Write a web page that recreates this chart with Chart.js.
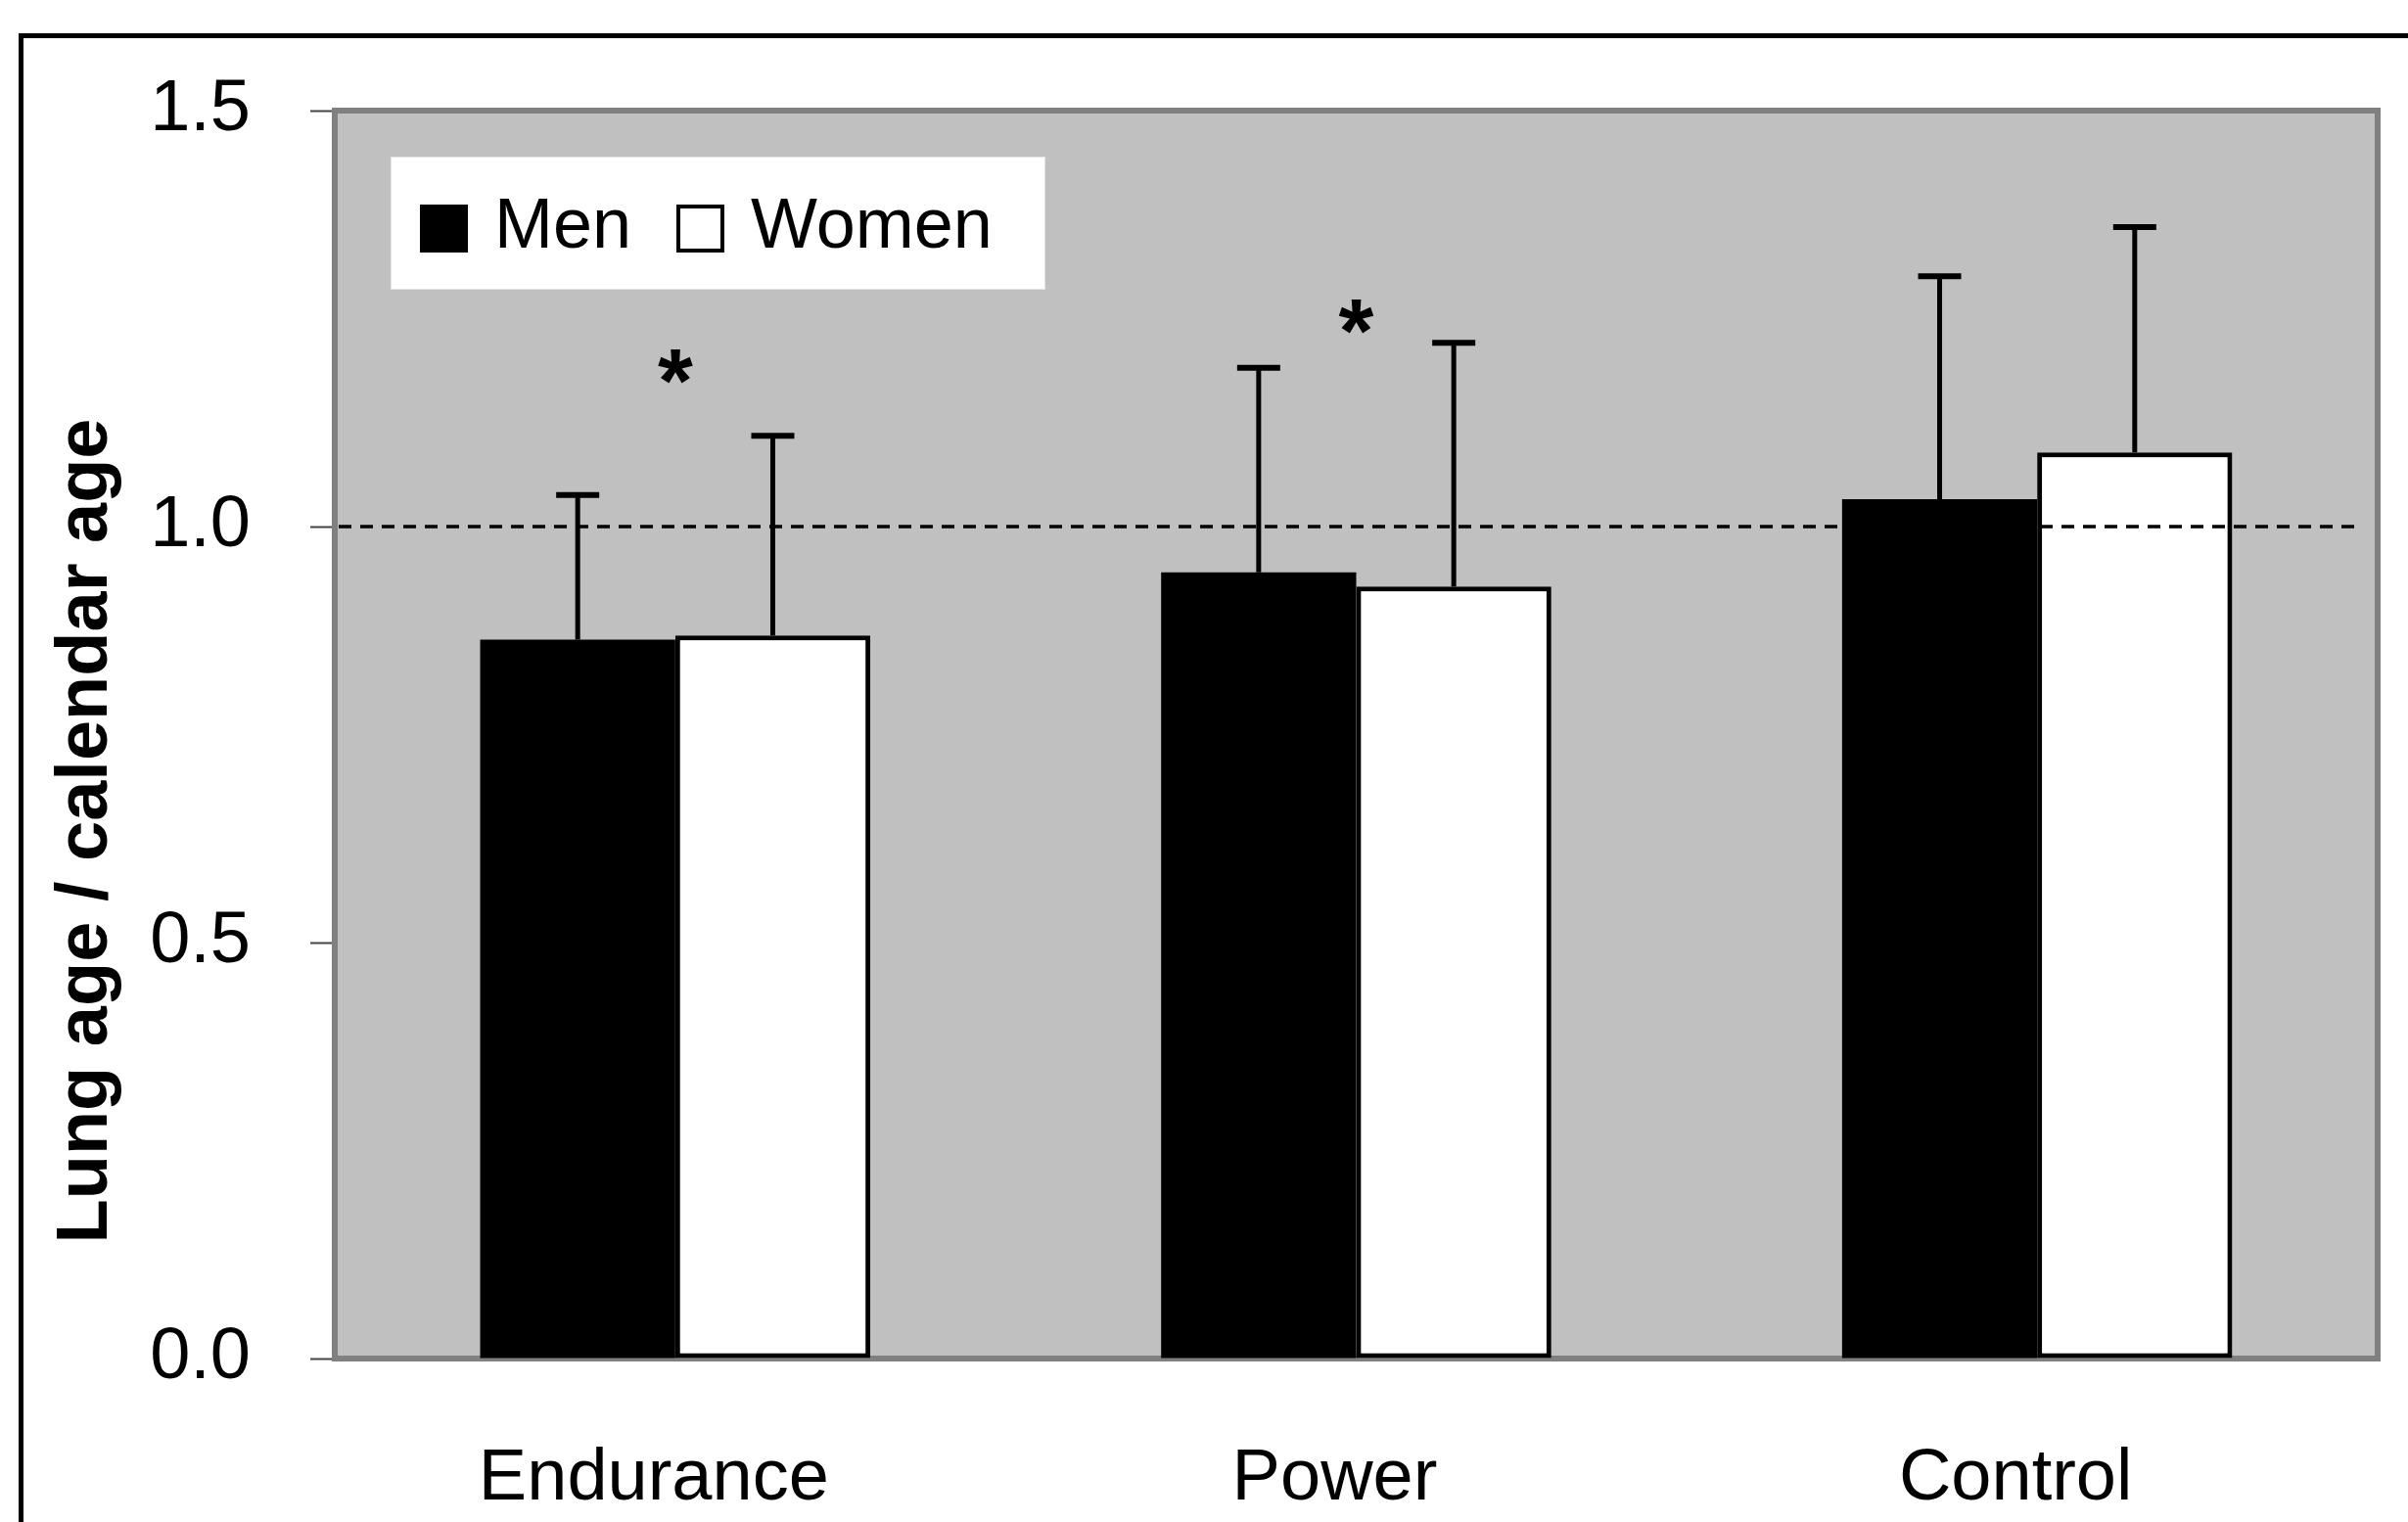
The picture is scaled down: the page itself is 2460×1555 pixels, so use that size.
<!DOCTYPE html>
<html>
<head>
<meta charset="utf-8">
<script src="https://cdn.jsdelivr.net/npm/chart.js@4.4.1/dist/chart.umd.min.js"></script>
<style>
    body { margin: 0; background: #fff; }
    #wrap { position: relative; width: 2460px; height: 1555px; overflow: hidden; }
    #frame { position: absolute; left: 19px; top: 34px; width: 2700px; height: 1800px; border: 5px solid #000; }
    #chart-box { position: absolute; left: 0; top: 0; width: 2460px; height: 1555px; }
    #legend {
        position: absolute; left: 399px; top: 160px; width: 669px; height: 136px;
        box-sizing: border-box; background: #fff; border: 1px solid #e4e4e4;
        display: flex; align-items: center; padding-left: 29px;
        font-family: 'Liberation Sans', Arial, sans-serif; font-size: 72px; color: #000;
    }
    .item { display: flex; align-items: center; margin-right: 46px; }
    .swatch { width: 49px; height: 49px; box-sizing: border-box; margin-right: 27px; margin-top: 10px; }
</style>
</head>
<body>
<div id="wrap">
    <div id="frame"></div>
    <div id="chart-box"><canvas id="chart"></canvas></div>
    <div id="legend"></div>
</div>
<script>
const groups = ['Endurance', 'Power', 'Control']
const menMean = [0.864, 0.945, 1.033]
const menSD = [0.174, 0.246, 0.268]
const womenMean = [0.869, 0.928, 1.089]
const womenSD = [0.240, 0.293, 0.271]
const starLevel = [1.19, 1.25, null]   // "*" marks above the groups
const refLine = 1.0
const yTicks = [0, 0.5, 1.0, 1.5]

const FONT = "'Liberation Sans', Arial, sans-serif"

// grey plot area with its border, under the bars
const plotArea = {
    id: 'plotArea',
    beforeDatasetsDraw(chart) {
        const {ctx, chartArea: a} = chart
        ctx.save()
        ctx.fillStyle = '#c0c0c0'
        ctx.fillRect(a.left, a.top, a.width, a.height)
        ctx.strokeStyle = '#808080'
        ctx.lineWidth = 6
        ctx.strokeRect(a.left, a.top, a.width, a.height)
        ctx.restore()
    }
}

// dashed line at 1.0, error bars and the stars
const extras = {
    id: 'extras',
    afterDatasetsDraw(chart) {
        const ctx = chart.ctx
        const x = chart.scales.x
        const y = chart.scales.y
        const a = chart.chartArea
        ctx.save()

        ctx.strokeStyle = '#000'
        ctx.lineWidth = 3.5
        ctx.setLineDash([13, 9])
        ctx.beginPath()
        ctx.moveTo(a.left + 4, y.getPixelForValue(refLine))
        ctx.lineTo(a.right - 18, y.getPixelForValue(refLine))
        ctx.stroke()
        ctx.setLineDash([])

        chart.data.datasets.forEach((ds, i) => {
            chart.getDatasetMeta(i).data.forEach((bar, j) => {
                const top = y.getPixelForValue(ds.data[j] + ds.errors[j])
                ctx.lineWidth = 5
                ctx.beginPath()
                ctx.moveTo(bar.x, bar.y)
                ctx.lineTo(bar.x, top)
                ctx.stroke()
                ctx.lineWidth = 6
                ctx.beginPath()
                ctx.moveTo(bar.x - 22, top)
                ctx.lineTo(bar.x + 22, top)
                ctx.stroke()
            })
        })

        ctx.fillStyle = '#000'
        ctx.font = 'bold 92px ' + FONT
        ctx.textAlign = 'center'
        ctx.textBaseline = 'middle'
        starLevel.forEach((v, i) => {
            if (v === null) return
            ctx.fillText('*', x.getPixelForValue(i), y.getPixelForValue(v) + 19)
        })
        ctx.restore()
    }
}

// y axis title, sits lower than the middle of the axis
const yTitle = {
    id: 'yTitle',
    afterDraw(chart) {
        const ctx = chart.ctx
        ctx.save()
        ctx.translate(109, 849)
        ctx.rotate(-Math.PI / 2)
        ctx.font = 'bold 74px ' + FONT
        ctx.fillStyle = '#000'
        ctx.textAlign = 'center'
        ctx.textBaseline = 'alphabetic'
        ctx.fillText('Lung age / calendar age', 0, 0)
        ctx.restore()
    }
}

function buildLegend(chart) {
    const legend = document.getElementById('legend')
    chart.data.datasets.forEach((ds) => {
        const item = document.createElement('div')
        item.className = 'item'
        const sw = document.createElement('span')
        sw.className = 'swatch'
        sw.style.background = ds.backgroundColor
        sw.style.border = ds.borderWidth ? '4px solid ' + ds.borderColor : 'none'
        const txt = document.createElement('span')
        txt.textContent = ds.label
        item.appendChild(sw)
        item.appendChild(txt)
        legend.appendChild(item)
    })
}

const ctx = document.getElementById('chart')
const chart = new Chart(ctx, {
    type: 'bar',
    data: {
        labels: groups,
        datasets: [
            {
                label: 'Men',
                data: menMean,
                errors: menSD,
                backgroundColor: '#000000',
                borderColor: '#000000',
                borderWidth: 0,
                borderSkipped: false,
                categoryPercentage: 0.573,
                barPercentage: 1.0
            },
            {
                label: 'Women',
                data: womenMean,
                errors: womenSD,
                backgroundColor: '#ffffff',
                borderColor: '#000000',
                borderWidth: 5,
                borderSkipped: false,
                categoryPercentage: 0.573,
                barPercentage: 1.0
            }
        ]
    },
    options: {
        responsive: true,
        maintainAspectRatio: false,
        animation: false,
        layout: { padding: { top: 113, right: 31, left: 0, bottom: 0 } },
        plugins: {
            legend: { display: false },
            tooltip: { enabled: false }
        },
        scales: {
            x: {
                grid: { display: false, drawTicks: false },
                border: { display: false },
                ticks: {
                    color: '#000',
                    font: { family: FONT, size: 74 },
                    padding: 79,
                    labelOffset: -22
                },
                afterFit: (scale) => { scale.height = 167 }
            },
            y: {
                min: 0,
                max: 1.5,
                afterBuildTicks: (scale) => { scale.ticks = yTicks.map((v) => ({value: v})) },
                grid: {
                    drawOnChartArea: false,
                    drawTicks: true,
                    tickLength: 25,
                    tickColor: '#444444',
                    tickWidth: 2
                },
                border: { display: false },
                ticks: {
                    color: '#000',
                    font: { family: FONT, size: 74 },
                    padding: 61,
                    callback: (v) => Number(v).toFixed(1)
                },
                afterFit: (scale) => { scale.width = 342 }
            }
        }
    },
    plugins: [plotArea, extras, yTitle]
})

buildLegend(chart)
</script>
</body>
</html>
